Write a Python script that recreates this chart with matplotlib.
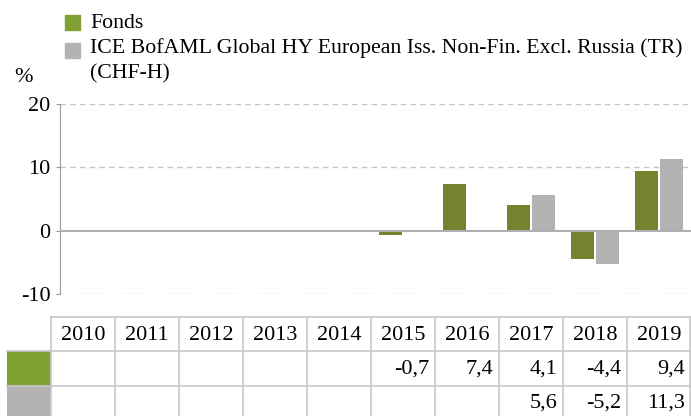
import numpy as np
import matplotlib.pyplot as plt
from matplotlib.patches import Rectangle

plt.rcParams['font.family'] = ['Liberation Serif', 'DejaVu Serif']
plt.rcParams['axes.unicode_minus'] = False

# Datos
years = ['2010', '2011', '2012', '2013', '2014', '2015', '2016', '2017', '2018', '2019']
fonds = [None, None, None, None, None, -0.7, 7.4, 4.1, -4.4, 9.4]
bench = [None, None, None, None, None, None, None, 5.6, -5.2, 11.3]
lbl_fonds = 'Fonds'
lbl_bench = 'ICE BofAML Global HY European Iss. Non-Fin. Excl. Russia (TR)\n(CHF-H)'

c_fonds = '#76822e'
c_fonds_light = '#80a232'
c_bench = '#b3b3b3'
c_grid = '#c4c4c4'

W, H = 691, 416
fig = plt.figure(figsize=(W / 100, H / 100), dpi=100)

def px(x0, y0, x1, y1):
    # rect in pixel coords (top-left origin) -> figure fraction
    return [x0 / W, 1 - y1 / H, (x1 - x0) / W, (y1 - y0) / H]

# columnas de la tabla
col0 = 51
colw = 64
fs = 16

# grafico de barras
ax = fig.add_axes(px(60, 104, W, 294))
x = np.arange(len(years))
bw = 0.36
for i in x:
    if fonds[i] is not None:
        ax.bar(i - bw / 2 - 0.015, fonds[i], width=bw, color=c_fonds, zorder=3)
    if bench[i] is not None:
        ax.bar(i + bw / 2 + 0.015, bench[i], width=bw, color=c_bench, zorder=3)

ax.set_xlim((60 - col0 - colw / 2) / colw, (W - col0 - colw / 2) / colw)
ax.set_ylim(-10, 20)
ax.set_yticks([-10, 0, 10, 20])
ax.tick_params(axis='y', length=3, color='#999999', labelsize=fs, pad=4)
ax.set_xticks([])
for s in ['top', 'right', 'bottom']:
    ax.spines[s].set_visible(False)
ax.spines['left'].set_color('#999999')
for v in [-10, 10, 20]:
    ax.axhline(v, color=c_grid, linestyle=(0, (4, 3)), linewidth=1, zorder=1)
ax.axhline(0, color='#b0b0b0', linewidth=1.5, zorder=4)
ax.patch.set_alpha(0)

# leyenda y unidad
fig.patches.append(Rectangle((65 / W, 1 - 30 / H), 15 / W, 15 / H, transform=fig.transFigure, color=c_fonds_light))
fig.patches.append(Rectangle((65 / W, 1 - 58 / H), 15 / W, 15 / H, transform=fig.transFigure, color=c_bench))
fig.text(90 / W, 1 - 23 / H, lbl_fonds, fontsize=15.7, va='center')
fig.text(90 / W, 1 - 38 / H, lbl_bench, fontsize=15.7, va='top', linespacing=1.45)
fig.text(14 / W, 1 - 77 / H, '%', fontsize=fs, va='center')

# tabla
tb = fig.add_axes([0, 0, 1, 1])
tb.set_xlim(0, W)
tb.set_ylim(H, 0)
tb.axis('off')
tb.patch.set_alpha(0)
r0, r1, r2, r3 = 317, 351, 386, 421
lc = '#c8c8c8'
tb.plot([col0, W], [r0, r0], color=lc, lw=1.2)
tb.plot([7, W], [r1, r1], color=lc, lw=1.2)
tb.plot([7, W], [r2, r2], color=lc, lw=1.2)
for j in range(len(years) + 1):
    xx = min(col0 + colw * j, W - 1)
    tb.plot([xx, xx], [r0, r3], color=lc, lw=1.2)
tb.add_patch(Rectangle((7, r1), col0 - 7, r2 - r1, color=c_fonds_light, lw=0))
tb.add_patch(Rectangle((7, r2), col0 - 7, r3 - r2, color=c_bench, lw=0))

def fmt(v):
    return ('%.1f' % v).replace('.', ',')

for j, yr in enumerate(years):
    cx = col0 + colw * j
    tb.text(cx + colw / 2, (r0 + r1) / 2 + 1, yr, fontsize=fs, ha='center', va='center')
    if fonds[j] is not None:
        tb.text(cx + colw - 6, (r1 + r2) / 2 + 1, fmt(fonds[j]), fontsize=fs, ha='right', va='center')
    if bench[j] is not None:
        tb.text(cx + colw - 6, (r2 + 416) / 2 + 2, fmt(bench[j]), fontsize=fs, ha='right', va='center')

fig.savefig('out.png', dpi=100)
